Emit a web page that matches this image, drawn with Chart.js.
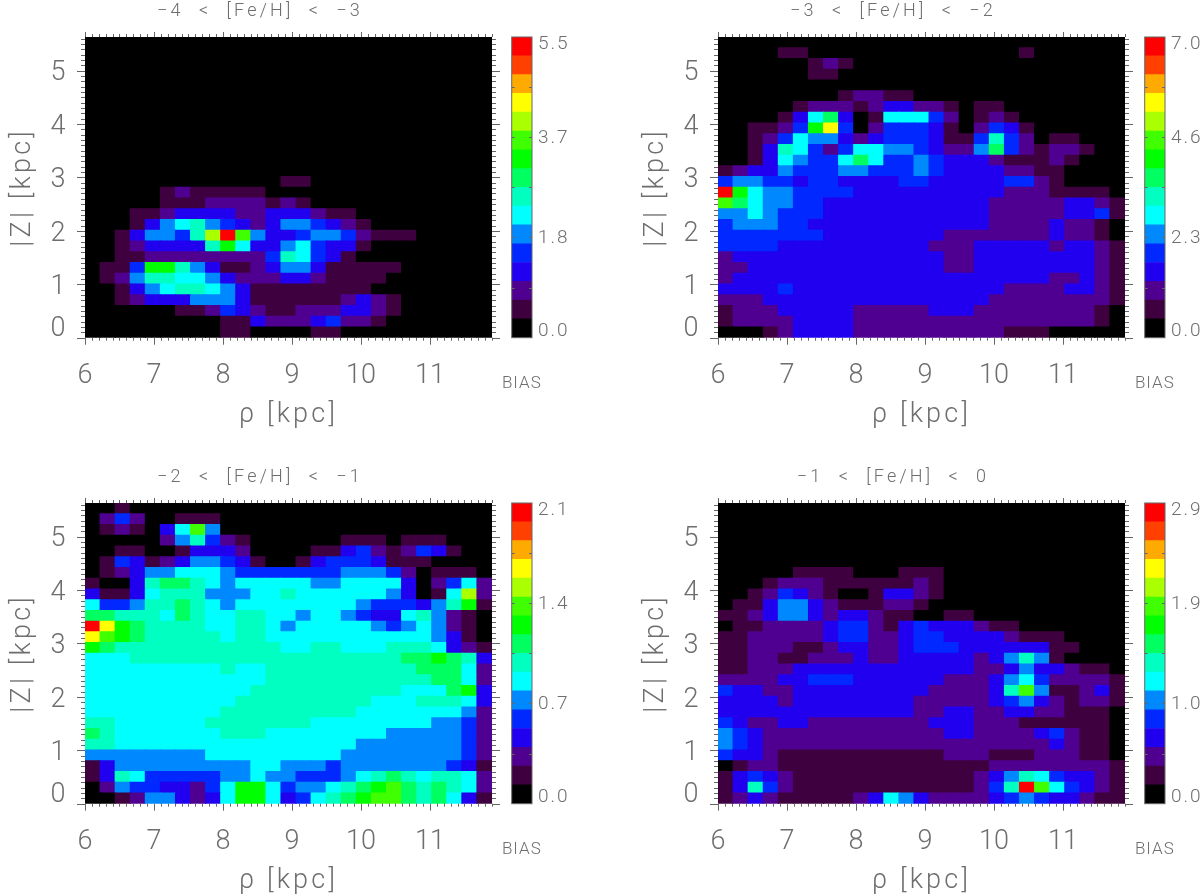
<!DOCTYPE html>
<html>
<head>
<meta charset="utf-8">
<title>BIAS maps</title>
<script src="https://cdn.jsdelivr.net/npm/chart.js@4"></script>
<style>
html, body { margin: 0; background: #fff; width: 1200px; height: 896px; overflow: hidden; }
canvas { position: absolute; }
</style>
</head>
<body>
<script>
// colour levels of the bar, black to red
const levelColors = ['#000000', '#3f0040', '#500090', '#2000ee', '#0028ff', '#0088ff', '#00ffff', '#00ffc0',
    '#00ff60', '#00ff00', '#40ff00', '#aaff00', '#ffff00', '#ffaa00', '#ff4000', '#ff0000'];

const rhoTicks = [6, 7, 8, 9, 10, 11];
const zTicks = [0, 1, 2, 3, 4, 5];

const titles = ['−4  <  [Fe/H]  <  −3', '−3  <  [Fe/H]  <  −2', '−2  <  [Fe/H]  <  −1', '−1  <  [Fe/H]  <  0'];
const barMax = [5.5, 7.0, 2.1, 2.9];
const barLabels = [['0.0', '1.8', '3.7', '5.5'], ['0.0', '2.3', '4.6', '7.0'], ['0.0', '0.7', '1.4', '2.1'], ['0.0', '1.0', '1.9', '2.9']];

// one hex digit per cell = colour level, rows from the top of the panel down
const grid1 = [
    '000000000000000000000000000', '000000000000000000000000000', '000000000000000000000000000', '000000000000000000000000000',
    '000000000000000000000000000', '000000000000000000000000000', '000000000000000000000000000', '000000000000000000000000000',
    '000000000000000000000000000', '000000000000000000000000000', '000000000000000000000000000', '000000000000000000000000000',
    '000000000000000000000000000',
    '000000000000011000000000000',
    '000001211111000000000000000',
    '000001112222121000000000000',
    '000112333322333211000000000',
    '000135675432355432100000000',
    '00135547bfa5334554211100000',
    '001233337963356433100000000',
    '001122222222476431000000000',
    '011499753112355311111000000',
    '012577665322233211110000000',
    '001356776531111111100000000',
    '001233355531111112321000000',
    '000000112432112223321000000',
    '000000000113222342210000000',
    '000000000110000110000000000'
];

const grid2 = [
    '000000000000000000000000000',
    '000011000000000000001000000',
    '000000121000000000000000000',
    '000000110000000000000000000',
    '000000000000000000000000000',
    '000000001221100000000000000',
    '000001222123322101100000000',
    '000013683016664201210000000',
    '0011249c4024443102431000000',
    '001246553234443114742011000',
    '001376424665543225842122100',
    '001365446864454333211121000',
    '123354445544454333322110000',
    '455443443333443333344210000',
    'f96554444333333333322211110',
    'a86554433333333333222223321',
    '556544433333333333222223341',
    '455544333333333333222232210',
    '444444433333333222222232210',
    '444433333333332223333323321',
    '233333333333333223333333321',
    '223333333333333223333333321',
    '233333333333333333333322321',
    '333343333333333333322223321',
    '222333333333333333222222221',
    '122233333222223332222222210',
    '122223333222222222222222210',
    '000123333222222222211100000'
];

const grid3 = [
    '001000000000000000000000000',
    '024200111000000000000000000',
    '0121036a5000000000000000000',
    '000002574210000001110111000',
    '001100133320000113421243100',
    '014312355431001344431110000',
    '012355666544444445554201110',
    '100378876566666556666302462',
    '3113677755566766666653016b2',
    '644577876566666666544435791',
    '887776876677665665433675210',
    'fc9877776677656666654565210',
    'ca9877777677666666666665310',
    '987777777777766776667776321',
    '666777777777777777777889873',
    '666666666766777777777788862',
    '666666666666777777777778862',
    '666666666667777777777666893',
    '666666666677777777766677763',
    '666666666777777777666666652',
    '776666667777777666666665542',
    '876666666777666666665555542',
    '776666666666666666555555542',
    '555555556666666665555555542',
    '135555555556655545555555431',
    '137644444556554445678767762',
    '02544332469964556789a878762',
    '0012553236996346789aa878631'
];

const grid4 = [
    '000000000000000000000000000', '000000000000000000000000000', '000000000000000000000000000',
    '000000000000000000000000000', '000000000000000000000000000', '000000000000000000000000000',
    '000001111000111000000000000',
    '000122211111121000000000000',
    '001243210013321000000000000',
    '011355321112210000000000000',
    '112355323321100110000000000',
    '011222234421343332110000000',
    '112222234422344333321110000',
    '112221123322344433333311000',
    '112211222322333332357510000',
    '112223333333333332235332110',
    '222233444333333222356422221',
    '43322333333333222237a511231',
    '333323333333322222345321221',
    '333333333333322332233221110',
    '432233222222223332221111110',
    '543222222222222332222342110',
    '543222222222222222222232110',
    '433211111111111222111222110',
    '012211111111111111222222221',
    '134321111111111112357643321',
    '13742111111111111247fa64321',
    '123211111236532222345433211'
];

const grids = [grid1, grid2, grid3, grid4];

const inkColor = '#6e6e6e';
const rhoMin = 6, rhoMax = 11.9, zMin = 0, zMax = 5.63;
const plotBottomSpace = 110.3;

// cells of one panel as floating bars on the two linear scales
function buildCells(grid) {
    const cellW = (rhoMax - rhoMin) / grid[0].length;
    const cellH = (zMax - zMin) / grid.length;
    const cells = [];
    grid.forEach((row, r) => {
        for (let c = 0; c < row.length; c++) {
            const top = zMax - r * cellH;
            cells.push({ x: rhoMin + (c + 0.5) * cellW, y: [top - cellH, top], level: parseInt(row[c], 16) });
        }
    });
    return cells;
}

// IDL style ticks, tick labels and panel title, placed with the chart scales
const axisDecor = {
    id: 'axisDecor',
    beforeDraw(chart) {
        chart.ctx.letterSpacing = '3.2px';
    },
    afterDraw(chart) {
        const { ctx, chartArea: a, scales } = chart;
        ctx.save();
        ctx.strokeStyle = '#666';
        ctx.lineWidth = 1;
        ctx.beginPath();
        for (let i = 0; i <= 59; i++) {
            const v = rhoMin + i * 0.1;
            const major = i % 10 === 0;
            const px = Math.round(scales.x.getPixelForValue(v)) + 0.5;
            ctx.moveTo(px, a.bottom);
            ctx.lineTo(px, a.bottom + (major ? 7 : 3));
            ctx.moveTo(px, a.top);
            ctx.lineTo(px, a.top - (major ? 5 : 3));
        }
        for (let i = 0; i <= 56; i++) {
            const v = zMin + i * 0.1;
            const major = i % 10 === 0;
            const py = Math.round(scales.y.getPixelForValue(v)) + 0.5;
            ctx.moveTo(a.left, py);
            ctx.lineTo(a.left - (major ? 8 : 4), py);
            ctx.moveTo(a.right, py);
            ctx.lineTo(a.right + (major ? 8 : 4), py);
        }
        ctx.stroke();
        ctx.fillStyle = inkColor;
        ctx.textAlign = 'center';
        ctx.textBaseline = 'middle';
        ctx.font = '300 18px Roboto';
        ctx.fillText(chart.options.panelTitle, 260, 11);
        ctx.font = '300 27px Roboto';
        ctx.letterSpacing = '0px';
        rhoTicks.forEach(v => ctx.fillText(String(v), scales.x.getPixelForValue(v), a.bottom + 39));
        zTicks.forEach(v => ctx.fillText(String(v), 58, scales.y.getPixelForValue(v) + (v === 0 ? -8 : 3)));
        ctx.restore();
    }
};

// edge, small ticks, value labels and name of the colour bar
const barDecor = {
    id: 'barDecor',
    afterDraw(chart) {
        const { ctx, chartArea: a, scales } = chart;
        const max = scales.y.max;
        ctx.save();
        ctx.strokeStyle = '#666';
        ctx.lineWidth = 1;
        ctx.strokeRect(a.left, a.top, a.right - a.left, a.bottom - a.top);
        ctx.beginPath();
        for (let i = 1; i < 6; i++) {
            const py = Math.round(scales.y.getPixelForValue(max * i / 6)) + 0.5;
            ctx.moveTo(a.left, py);
            ctx.lineTo(a.left + 3, py);
            ctx.moveTo(a.right, py);
            ctx.lineTo(a.right - 3, py);
        }
        ctx.stroke();
        ctx.fillStyle = inkColor;
        ctx.font = '300 19px Roboto';
        ctx.letterSpacing = '2px';
        ctx.textAlign = 'left';
        ctx.textBaseline = 'middle';
        const shift = [-6, 1, 1, 7];
        chart.options.barLabels.forEach((txt, i) => {
            const py = scales.y.getPixelForValue(max * i / 3);
            ctx.fillText(txt, a.right + 6, py + shift[i]);
        });
        ctx.font = '300 17px Roboto';
        ctx.letterSpacing = '1px';
        ctx.textAlign = 'center';
        ctx.fillText(chart.data.labels[0], (a.left + a.right) / 2, a.bottom + 46);
        ctx.restore();
    }
};

function makeCanvas(left, top, width, height) {
    const canvas = document.createElement('canvas');
    canvas.width = width;
    canvas.height = height;
    canvas.style.left = left + 'px';
    canvas.style.top = top + 'px';
    canvas.style.width = width + 'px';
    canvas.style.height = height + 'px';
    document.body.appendChild(canvas);
    return canvas;
}

function drawPanel(i) {
    const left = i % 2 === 0 ? 0 : 633;
    const top = i < 2 ? 0 : 466;
    new Chart(makeCanvas(left, top, 520, 448), {
        type: 'bar',
        data: {
            datasets: [{
                data: buildCells(grids[i]),
                backgroundColor: ctx => levelColors[ctx.raw ? ctx.raw.level : 0],
                borderWidth: 0,
                inflateAmount: 0.5,
                barPercentage: 1,
                categoryPercentage: 1
            }]
        },
        options: {
            responsive: false,
            animation: false,
            devicePixelRatio: 1,
            panelTitle: titles[i],
            layout: { padding: { right: 28, top: 37 } },
            plugins: {
                legend: { display: false },
                tooltip: { enabled: false }
            },
            scales: {
                x: {
                    type: 'linear',
                    min: rhoMin,
                    max: rhoMax,
                    offset: false,
                    afterFit: s => { s.height = plotBottomSpace; },
                    grid: { display: false },
                    border: { display: false },
                    ticks: { display: false },
                    title: {
                        display: true,
                        text: 'ρ [kpc]',
                        color: inkColor,
                        font: { family: 'Roboto', size: 27, weight: '300' },
                        padding: { top: 0, bottom: 17 }
                    }
                },
                y: {
                    type: 'linear',
                    min: zMin,
                    max: zMax,
                    afterFit: s => { s.width = 85; },
                    grid: { display: false },
                    border: { display: false },
                    ticks: { display: false },
                    title: {
                        display: true,
                        text: '|Z| [kpc]',
                        color: inkColor,
                        font: { family: 'Roboto', size: 27, weight: '300' },
                        padding: { top: 7, bottom: 0 }
                    }
                }
            }
        },
        plugins: [axisDecor]
    });

    // colour bar, one stacked segment per level
    new Chart(makeCanvas(left + 495, top, 76, 448), {
        type: 'bar',
        data: {
            labels: ['BIAS'],
            datasets: levelColors.map(color => ({
                data: [barMax[i] / levelColors.length],
                backgroundColor: color,
                borderWidth: 0,
                barPercentage: 1,
                categoryPercentage: 1,
                stack: 'bar'
            }))
        },
        options: {
            responsive: false,
            animation: false,
            devicePixelRatio: 1,
            barLabels: barLabels[i],
            layout: { padding: { left: 16.7, right: 39, top: 37 } },
            plugins: { legend: { display: false }, tooltip: { enabled: false } },
            scales: {
                x: {
                    stacked: true,
                    afterFit: s => { s.height = plotBottomSpace; },
                    grid: { display: false },
                    border: { display: false },
                    ticks: { display: false }
                },
                y: { stacked: true, display: false, min: 0, max: barMax[i] }
            }
        },
        plugins: [barDecor]
    });
}

titles.forEach((t, i) => drawPanel(i));
</script>
</body>
</html>
